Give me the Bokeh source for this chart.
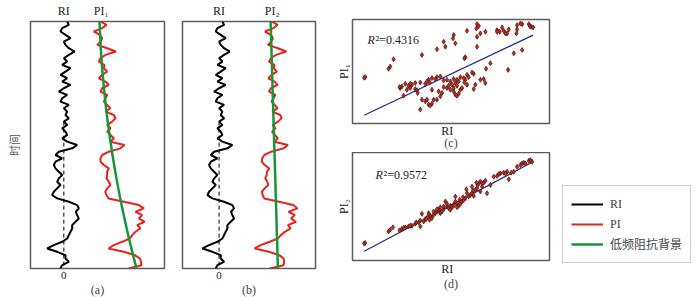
from bokeh.plotting import figure
from bokeh.layouts import row, column
from bokeh.models import Range1d, Label, Legend, LegendItem, FixedTicker, LinearAxis, Spacer
from bokeh.embed import file_html
from bokeh.resources import INLINE

# ---------------- data ----------------
# sample index (time, increasing downward)
T = [0, 1, 2, 3, 4, 5, 6, 7, 8, 9,
     10, 11, 12, 13, 14, 15, 16, 17, 18, 19,
     20, 21, 22, 23, 24, 25, 26, 27, 28, 29,
     30, 31, 32, 33, 34, 35, 36, 37, 38, 39,
     40, 41, 42, 43, 44, 45, 46, 47, 48, 49,
     50, 51, 52, 53, 54, 55, 56, 57, 58, 59,
     60, 61, 62, 63, 64, 65, 66, 67, 68, 69,
     70, 71, 72, 73, 74]

RI = [10, 15, -5, -10, 5, 20, 0, 5, 15, 32,
      15, 0, 10, -5, 20, 5, -10, 10, -5, 20,
      0, -15, 10, -5, -10, 15, 0, 10, 5, 15,
      0, 10, -5, 5, 10, -5, 10, 40, 25, -15,
      -25, -5, -25, -30, -25, -15, -5, -15, -20, -10,
      -20, -30, -35, -20, 15, 40, 45, 36, 40, 45,
      35, 25, 25, 20, 15, 10, -5, -30, -50, -20,
      5, 5, 15, -5, -10]

PI1 = [110, 128, 115, 90, 108, 115, 110, 100, 130, 156,
       125, 110, 105, 122, 120, 130, 115, 105, 125, 135,
       115, 110, 130, 125, 120, 130, 140, 125, 150, 155,
       145, 130, 140, 130, 140, 150, 140, 182, 170, 135,
       115, 110, 110, 120, 135, 130, 130, 128, 135, 140,
       130, 124, 128, 134, 180, 225, 240, 215, 235, 225,
       242, 220, 230, 215, 205, 198, 175, 150, 134, 180,
       213, 228, 232, 233, 194]

PI2 = [158, 176, 163, 138, 156, 162, 157, 147, 177, 202,
       171, 156, 150, 167, 164, 174, 158, 148, 167, 176,
       156, 150, 169, 164, 158, 167, 176, 160, 184, 188,
       177, 161, 170, 159, 168, 177, 166, 207, 194, 157,
       136, 130, 128, 137, 151, 144, 143, 139, 145, 148,
       137, 129, 131, 136, 180, 223, 236, 209, 228, 216,
       231, 207, 215, 198, 186, 177, 152, 125, 107, 150,
       181, 194, 196, 194, 153]

# low-frequency impedance background
BG1_T = [0, 5, 10, 15, 20, 25, 30, 35, 40, 45, 50, 55, 60, 65, 70, 74]
BG1 = [107.0, 109.2, 112.1, 115.8, 120.3, 125.5, 131.6, 138.4,
       145.9, 154.3, 163.4, 173.3, 184.0, 195.4, 207.7, 218.0]
BG2_T = [0, 74]
BG2 = [155, 177]

ZERO_T = [30, 74]
ZERO_V = [0, 0]

# cross-plot (c): RI vs PI1
C_RI = [373, 378, 371, 343, 383, 398, 373, 448, 433, 441, 453, 463, 468, 493, 491,
        508, 503, 493, 528, 535, 541, 531, 433, 458, 373, 303, 301, 308, 273, 278,
        253, 208, 123, 113, 108, 38, 35, 338, 335, 413, 400, 466, 483, 508, 363,
        358, 343, 348, 338, 333, 323, 318, 313, 308, 303, 293, 283, 273, 263, 253,
        248, 238, 228, 231, 223, 218, 203, 188, 178, 168, 158, 148, 143, 141, 163,
        173, 188, 193, 195, 153, 208, 218, 223, 228, 233, 238, 243, 253, 263, 268,
        273, 283, 293, 303, 308, 313, 318, 323, 328, 303, 298, 288, 313, 335, 343,
        368, 363, 383, 393, 398, 203, 238, 258, 173]
C_PI = [300, 294, 287, 280, 272, 277, 262, 290, 282, 277, 280, 272, 284, 284, 272,
        300, 302, 297, 300, 292, 290, 294, 277, 272, 232, 267, 257, 242, 247, 232,
        224, 207, 194, 172, 165, 140, 138, 200, 197, 182, 165, 162, 212, 222, 150,
        154, 147, 140, 132, 137, 140, 127, 132, 122, 134, 127, 132, 130, 142, 140,
        134, 137, 132, 124, 127, 120, 124, 122, 117, 114, 120, 112, 107, 110, 102,
        107, 104, 100, 92, 84, 72, 67, 72, 57, 54, 60, 72, 72, 82, 92,
        110, 107, 102, 97, 87, 84, 90, 102, 107, 107, 117, 114, 114, 124, 117,
        117, 104, 132, 134, 122, 42, 102, 97, 120]
C_FIT_X = [35, 541]
C_FIT_Y = [25, 267]

# cross-plot (d): RI vs PI2
D_RI = [38, 35, 108, 113, 121, 141, 148, 158, 168, 178, 188, 198, 203, 208, 203,
        218, 225, 233, 238, 243, 248, 253, 258, 263, 268, 273, 278, 283, 288, 293,
        298, 303, 308, 313, 318, 323, 328, 333, 338, 341, 348, 353, 358, 363, 368,
        373, 378, 383, 393, 398, 388, 403, 413, 433, 443, 453, 463, 468, 483, 493,
        503, 508, 513, 528, 533, 538, 221, 231, 191, 263, 273, 283, 308, 321, 343,
        361, 375, 228, 243, 213, 173, 153, 313, 293, 331, 358, 383, 371, 388, 423,
        438, 458, 475, 518, 303, 253]
D_PI = [53, 51, 88, 93, 100, 91, 95, 100, 103, 105, 111, 115, 121, 141, 103,
        125, 131, 135, 128, 138, 143, 148, 153, 143, 148, 155, 178, 163, 158, 165,
        161, 168, 193, 173, 165, 171, 178, 183, 188, 215, 193, 198, 203, 195, 213,
        218, 233, 238, 235, 241, 223, 203, 228, 255, 263, 265, 268, 245, 268, 283,
        288, 293, 295, 301, 303, 298, 125, 123, 115, 161, 163, 171, 178, 183, 203,
        211, 228, 143, 148, 118, 105, 98, 161, 153, 191, 223, 208, 235, 233, 253,
        261, 263, 265, 293, 165, 155]
D_FIT_X = [35, 541]
D_FIT_Y = [28, 298]

# ---------------- style ----------------
SERIF = "'Liberation Serif', 'DejaVu Serif', serif"
CJK = "'Noto Sans CJK SC', sans-serif"
OUTLINE = "#5c5c5c"
RED = "#e8231c"
GREEN = "#17963a"
NAVY = "#2c2a8e"


def base_fig(xr, yr, fw, fh, bl, br, bt, bb):
    p = figure(frame_width=fw, frame_height=fh,
               min_border_left=bl, min_border_right=br,
               min_border_top=bt, min_border_bottom=bb,
               x_range=Range1d(*xr), y_range=Range1d(*yr),
               x_axis_location=None, y_axis_location=None,
               toolbar_location=None, output_backend="svg", title=None)
    p.grid.visible = False
    p.outline_line_color = OUTLINE
    p.outline_line_width = 1.5
    p.background_fill_color = "white"
    p.border_fill_color = "white"
    return p


def text_axis(ticks, labels, label="", size="12px", standoff=3, label_standoff=2,
              label_font=SERIF, label_color="#444444"):
    ax = LinearAxis(ticker=FixedTicker(ticks=ticks),
                    major_label_overrides=dict(zip(ticks, labels)))
    ax.axis_line_color = None
    ax.major_tick_line_color = None
    ax.minor_tick_line_color = None
    ax.major_tick_in = 0
    ax.major_tick_out = 0
    ax.major_label_standoff = standoff
    ax.major_label_text_font = SERIF
    ax.major_label_text_font_size = size
    ax.major_label_text_color = "#222222"
    if label:
        ax.axis_label = label
        ax.axis_label_text_font = label_font
        ax.axis_label_text_font_size = "12px" if label_font == SERIF else "11px"
        ax.axis_label_text_font_style = "normal"
        ax.axis_label_text_color = label_color
        ax.axis_label_standoff = label_standoff
    return ax


def log_panel(xr, pi, bg_t, bg, bl, br, fw, pi_label, pi_x, tag, ylabel):
    p = base_fig(xr, (74, 0), fw, 247, bl, br, 20, 29)
    p.line(x=ZERO_V, y=ZERO_T, line_color="black", line_width=1, line_dash="4 3")
    p.line(x=RI, y=T, line_color="black", line_width=2)
    p.line(x=pi, y=T, line_color=RED, line_width=2)
    p.line(x=bg, y=bg_t, line_color=GREEN, line_width=2.5)
    p.add_layout(text_axis([0, pi_x], ["RI", pi_label], standoff=4), "above")
    p.add_layout(text_axis([0], ["0"], label=tag, size="11px", standoff=3,
                           label_standoff=1), "below")
    if ylabel:
        p.add_layout(text_axis([], [], label="时间", label_font=CJK,
                               label_color="#555555", label_standoff=9), "left")
    return p


fig_a = log_panel((-100, 302), PI1, BG1_T, BG1, 30, 9, 134, "PI₁", 112, "(a)", True)
fig_b = log_panel((-110, 290), PI2, BG2_T, BG2, 9, 18, 133, "PI₂", 160, "(b)", False)


def cross_panel(yr, bt, fh, bb, ri, pi, fx, fy, pi_label, r2, r2x, r2y, tag, ri_st, tag_st):
    p = base_fig((0, 590), yr, 197, fh, 19, 5, bt, bb)
    p.line(x=fx, y=fy, line_color=NAVY, line_width=1.3)
    p.scatter(x=ri, y=pi, marker="diamond", size=5, fill_color="#cc2a1c",
              line_color="#3a1410", line_width=0.7)
    p.add_layout(text_axis([284], ["RI"], label=tag, standoff=ri_st,
                           label_standoff=tag_st), "below")
    p.add_layout(text_axis([], [], label=pi_label, label_color="#222222",
                           label_standoff=2), "left")
    p.add_layout(Label(x=r2x, y=r2y, text="R", text_font=SERIF, text_font_size="12px",
                       text_font_style="italic", text_color="#222222",
                       text_baseline="middle", text_align="left"))
    p.add_layout(Label(x=r2x, y=r2y, text="²=" + r2, text_font=SERIF, text_font_size="12px",
                       text_color="#222222", text_baseline="middle", text_align="left",
                       x_offset=8))
    return p


fig_c = cross_panel((0, 314), 19, 104, 20, C_RI, C_PI, C_FIT_X, C_FIT_Y, "PI₁",
                    "0.4316", 45, 251, "(c)", 0, -5)
fig_d = cross_panel((0, 326), 0, 108, 20, D_RI, D_PI, D_FIT_X, D_FIT_Y, "PI₂",
                    "0.9572", 69, 257, "(d)", 1, -2)

# ---------------- legend panel ----------------
# legend-only renderers: real series drawn outside this panel's visible ranges
fig_leg = figure(frame_width=137, frame_height=100,
                 min_border_left=8, min_border_right=0, min_border_top=0, min_border_bottom=0,
                 x_range=Range1d(1000, 1001), y_range=Range1d(1000, 1001),
                 x_axis_location=None, y_axis_location=None,
                 toolbar_location=None, output_backend="svg", title=None)
fig_leg.grid.visible = False
fig_leg.outline_line_color = None
r_ri = fig_leg.line(x=RI, y=T, line_color="black", line_width=2)
r_pi = fig_leg.line(x=PI1, y=T, line_color=RED, line_width=2)
r_bg = fig_leg.line(x=BG1, y=BG1_T, line_color=GREEN, line_width=2.5)
legend = Legend(items=[LegendItem(label="RI", renderers=[r_ri]),
                       LegendItem(label="PI", renderers=[r_pi]),
                       LegendItem(label="低频阻抗背景", renderers=[r_bg])],
                location="top_left", glyph_width=32, glyph_height=20, label_height=20,
                label_standoff=7, padding=8, spacing=0, margin=0,
                label_text_font="'Liberation Serif', 'Noto Sans CJK SC', serif",
                label_text_font_size="12px", label_text_color="#444444",
                border_line_color="#9a9a9a", border_line_width=1.2,
                background_fill_color="white", background_fill_alpha=1.0)
fig_leg.add_layout(legend)

legend_col = column(Spacer(width=145, height=185), fig_leg)
layout = row(fig_a, fig_b, column(fig_c, fig_d), legend_col)

open("out.html", "w").write(file_html(layout, INLINE))
